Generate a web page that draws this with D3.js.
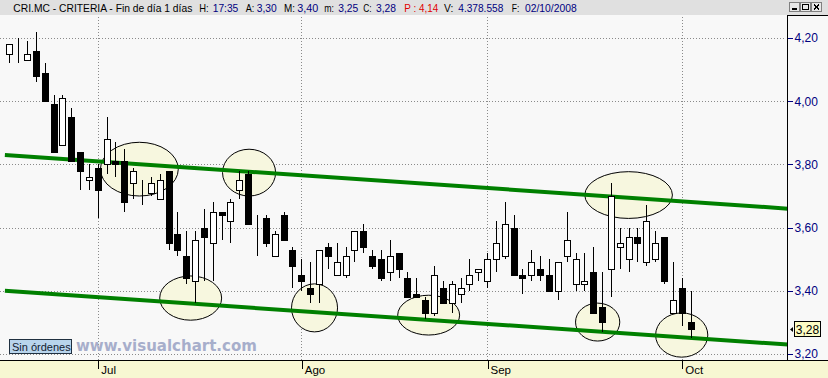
<!DOCTYPE html>
<html>
<head>
<meta charset="utf-8">
<script src="https://cdn.jsdelivr.net/npm/d3@7"></script>
<style>
body { margin: 0; background: #f8f8f8; }
text { font-family: "Liberation Sans", Arial, sans-serif; }
</style>
</head>
<body>
<script>
// trading days, 17 Jun 2008 .. 2 Oct 2008
var dates = ["17/06","18/06","19/06","20/06","23/06","24/06","25/06","26/06","27/06","30/06",
  "01/07","02/07","03/07","04/07","07/07","08/07","09/07","10/07","11/07","14/07","15/07","16/07",
  "17/07","18/07","21/07","22/07","23/07","24/07","25/07","28/07","29/07","30/07","31/07",
  "01/08","04/08","05/08","06/08","07/08","08/08","11/08","12/08","13/08","14/08","15/08","18/08",
  "19/08","20/08","21/08","22/08","25/08","26/08","27/08","28/08","29/08",
  "01/09","02/09","03/09","04/09","05/09","08/09","09/09","10/09","11/09","12/09","15/09","16/09",
  "17/09","18/09","19/09","22/09","23/09","24/09","25/09","26/09","29/09","30/09",
  "01/10","02/10"];

var openV = [4.15,4.15,4.13,4.16,4.09,3.99,3.86,3.95,3.84,3.75,
  3.79,3.80,3.81,3.81,3.74,3.72,3.71,3.69,3.78,3.58,3.51,3.43,
  3.60,3.55,3.65,3.62,3.72,3.77,3.61,3.63,3.51,3.64,3.53,
  3.45,3.41,3.42,3.54,3.45,3.45,3.53,3.59,3.51,3.50,3.46,3.52,
  3.44,3.39,3.37,3.33,3.41,3.36,3.39,3.42,3.46,
  3.43,3.50,3.51,3.60,3.45,3.45,3.47,3.45,3.40,3.51,3.42,3.42,
  3.46,3.35,3.47,3.54,3.50,3.57,3.49,3.50,3.57,3.33,
  3.41,3.30];
var highV = [4.18,4.20,4.19,4.22,4.12,4.02,4.02,3.98,3.84,3.80,
  3.80,3.95,3.87,3.85,3.79,3.75,3.76,3.77,3.78,3.65,3.59,3.59,
  3.66,3.68,3.65,3.69,3.78,3.78,3.64,3.64,3.59,3.65,3.54,
  3.50,3.49,3.53,3.55,3.55,3.54,3.59,3.61,3.53,3.53,3.56,3.52,
  3.46,3.44,3.38,3.48,3.43,3.43,3.44,3.50,3.47,
  3.52,3.62,3.68,3.64,3.47,3.53,3.51,3.50,3.49,3.65,3.52,3.52,
  3.54,3.46,3.74,3.60,3.60,3.60,3.67,3.59,3.57,3.49,
  3.44,3.40];
var lowV = [4.12,4.12,4.13,4.06,4.00,3.84,3.86,3.81,3.72,3.72,
  3.63,3.77,3.76,3.65,3.69,3.67,3.70,3.69,3.53,3.51,3.42,3.36,
  3.43,3.43,3.56,3.55,3.69,3.61,3.51,3.54,3.51,3.56,3.41,
  3.40,3.36,3.36,3.47,3.45,3.44,3.49,3.52,3.47,3.43,3.43,3.44,
  3.38,3.38,3.31,3.32,3.36,3.33,3.36,3.40,3.43,
  3.41,3.46,3.50,3.45,3.39,3.43,3.43,3.40,3.37,3.49,3.40,3.40,
  3.33,3.27,3.38,3.47,3.46,3.49,3.48,3.49,3.42,3.33,
  3.29,3.25];
var closeV = [4.18,4.15,4.15,4.08,4.00,3.84,4.01,3.81,3.78,3.76,
  3.72,3.88,3.80,3.68,3.78,3.72,3.74,3.75,3.55,3.53,3.44,3.56,
  3.57,3.65,3.64,3.68,3.75,3.61,3.61,3.55,3.58,3.56,3.48,
  3.43,3.39,3.53,3.51,3.49,3.51,3.59,3.54,3.48,3.44,3.51,3.47,
  3.38,3.38,3.33,3.45,3.36,3.42,3.41,3.45,3.47,
  3.50,3.55,3.61,3.45,3.44,3.49,3.45,3.40,3.49,3.56,3.50,3.43,
  3.33,3.30,3.70,3.55,3.57,3.55,3.62,3.55,3.43,3.37,
  3.33,3.28];

var priceTicks = [3.20, 3.40, 3.60, 3.80, 4.00, 4.20];
var monthLabels = ["Jul", "Ago", "Sep", "Oct"];
var monthStart = ["01/07", "01/08", "01/09", "01/10"];

// channel lines: [day index, price] at both ends
var upperLine = [[-0.5, 3.83], [88, 3.66]];
var lowerLine = [[-0.5, 3.40], [88, 3.23]];

// marked zones: centre day, centre price, half width (days), half height (price)
var zoneDay = [14.7, 27.1, 20.5, 34.5, 47.4, 70.0, 66.5, 76.0];
var zonePrice = [3.785, 3.774, 3.377, 3.346, 3.323, 3.703, 3.301, 3.260];
var zoneHalfDays = [4.4, 3.0, 3.5, 2.6, 3.5, 4.95, 2.5, 2.95];
var zoneHalfPrice = [0.085, 0.074, 0.070, 0.076, 0.063, 0.074, 0.060, 0.070];

// header pieces: text, left x, width, colour
var headerParts = [
  {t: "CRI.MC - CRITERIA - Fin de día 1 días", x: 13.3, w: 179, c: "#000"},
  {t: "H:", x: 199.3, w: 9.4, c: "#000"}, {t: "17:35", x: 212.7, w: 25.6, c: "#000080"},
  {t: "A:", x: 245.7, w: 8.6, c: "#000"}, {t: "3,30", x: 256.7, w: 20, c: "#000080"},
  {t: "M:", x: 284, w: 11, c: "#000"}, {t: "3,40", x: 297.3, w: 21, c: "#000080"},
  {t: "m:", x: 324.3, w: 9.7, c: "#000"}, {t: "3,25", x: 338.3, w: 20, c: "#000080"},
  {t: "C:", x: 363.3, w: 8.4, c: "#000"}, {t: "3,28", x: 376, w: 20, c: "#000080"},
  {t: "P : 4,14", x: 404.3, w: 34, c: "#e00000"},
  {t: "V:", x: 444, w: 9.3, c: "#000"}, {t: "4.378.558", x: 458.3, w: 45, c: "#000080"},
  {t: "F:", x: 511.7, w: 7.6, c: "#000"}, {t: "02/10/2008", x: 525, w: 51.7, c: "#000080"}
];

var W = 828, H = 378;
var axisX = 787, plotTop = 15, plotBottom = 360;

var svg = d3.select("body").append("svg")
  .attr("width", W)
  .attr("height", H)
  .style("display", "block");

var x = d3.scaleLinear().domain([0, 76]).range([9.3, 681.7]);
var y = d3.scaleLinear().domain([3.2, 4.2]).range([354, 38]);
var fmt = function(d) { return d3.format(".2f")(d).replace(".", ","); };

// backgrounds
svg.append("rect").attr("x", 0).attr("y", 0).attr("width", W).attr("height", plotTop)
  .attr("fill", "#e0e0e0");
svg.append("rect").attr("x", 0).attr("y", plotTop).attr("width", W).attr("height", plotBottom - plotTop)
  .attr("fill", "#f8f8f8");
svg.append("rect").attr("x", 0).attr("y", plotBottom).attr("width", W).attr("height", H - plotBottom)
  .attr("fill", "#f7f7d2");

// dotted grid
var grid = svg.append("g").attr("stroke", "#8a8a8a").attr("stroke-dasharray", "1,2")
  .attr("shape-rendering", "crispEdges");
grid.selectAll("line.h").data(priceTicks).enter().append("line")
  .attr("x1", 0).attr("x2", axisX - 1)
  .attr("y1", function(d) { return Math.round(y(d)) + 0.5; })
  .attr("y2", function(d) { return Math.round(y(d)) + 0.5; });
grid.selectAll("line.v").data(monthStart).enter().append("line")
  .attr("x1", function(d) { return Math.round(x(dates.indexOf(d))) + 0.5; })
  .attr("x2", function(d) { return Math.round(x(dates.indexOf(d))) + 0.5; })
  .attr("y1", plotTop + 2).attr("y2", plotBottom);

// zones
svg.append("g").selectAll("ellipse").data(zoneDay).enter().append("ellipse")
  .attr("cx", function(d) { return x(d); })
  .attr("cy", function(d, i) { return y(zonePrice[i]); })
  .attr("rx", function(d, i) { return x(d + zoneHalfDays[i]) - x(d); })
  .attr("ry", function(d, i) { return y(zonePrice[i] - zoneHalfPrice[i]) - y(zonePrice[i]); })
  .attr("fill", "#f7f7df")
  .attr("stroke", "#000")
  .attr("stroke-width", 1);

// channel
svg.append("g").selectAll("line").data([upperLine, lowerLine]).enter().append("line")
  .attr("x1", function(d) { return x(d[0][0]); })
  .attr("y1", function(d) { return y(d[0][1]); })
  .attr("x2", function(d) { return x(d[1][0]); })
  .attr("y2", function(d) { return y(d[1][1]); })
  .attr("stroke", "#008000")
  .attr("stroke-width", 4);

// candles
var candles = svg.append("g").attr("shape-rendering", "crispEdges")
  .selectAll("g").data(dates).enter().append("g");

candles.append("line")
  .attr("x1", function(d, i) { return Math.round(x(i)) + 0.5; })
  .attr("x2", function(d, i) { return Math.round(x(i)) + 0.5; })
  .attr("y1", function(d, i) { return y(highV[i]); })
  .attr("y2", function(d, i) { return y(lowV[i]); })
  .attr("stroke", "#000");

candles.append("rect")
  .attr("x", function(d, i) { return Math.round(x(i)) - 2.5; })
  .attr("width", 6)
  .attr("y", function(d, i) { return Math.round(y(Math.max(openV[i], closeV[i]))) + 0.5; })
  .attr("height", function(d, i) {
    return Math.max(0, Math.round(y(Math.min(openV[i], closeV[i]))) - Math.round(y(Math.max(openV[i], closeV[i]))));
  })
  .attr("fill", function(d, i) { return closeV[i] > openV[i] ? "#fff" : "#000"; })
  .attr("stroke", "#000");

// right axis
svg.append("line")
  .attr("x1", axisX + 0.5).attr("x2", axisX + 0.5)
  .attr("y1", plotTop).attr("y2", plotBottom)
  .attr("stroke", "#000");
svg.append("line")
  .attr("x1", axisX).attr("x2", W)
  .attr("y1", plotTop + 0.5).attr("y2", plotTop + 0.5)
  .attr("stroke", "#000");

var yAxis = svg.append("g")
  .attr("transform", "translate(" + (axisX + 0.5) + ",0)")
  .call(d3.axisRight(y).tickValues(priceTicks).tickSize(5).tickPadding(2).tickFormat(fmt));
yAxis.select(".domain").remove();
yAxis.selectAll("line").attr("stroke", "#000080").attr("shape-rendering", "crispEdges");
yAxis.selectAll("text")
  .attr("fill", "#000080")
  .style("font-size", "12px")
  .style("font-family", "'Liberation Sans', Arial, sans-serif");

// bottom axis
svg.append("line")
  .attr("x1", 0).attr("x2", W)
  .attr("y1", plotBottom + 0.5).attr("y2", plotBottom + 0.5)
  .attr("stroke", "#000");
var xAxis = svg.append("g")
  .attr("transform", "translate(0," + plotBottom + ")")
  .call(d3.axisBottom(x)
    .tickValues(monthStart.map(function(d) { return dates.indexOf(d); }))
    .tickSize(9)
    .tickFormat(function(d, i) { return monthLabels[i]; }));
xAxis.select(".domain").remove();
xAxis.selectAll("line").attr("stroke", "#000").attr("shape-rendering", "crispEdges")
  .attr("transform", "translate(0.5,0)");
xAxis.selectAll("text")
  .attr("text-anchor", "start")
  .attr("x", 3)
  .attr("y", 6)
  .attr("fill", "#000")
  .style("font-size", "11.5px")
  .style("font-family", "'Liberation Sans', Arial, sans-serif");

// last price tag
var last = closeV[closeV.length - 1];
var tagY = Math.round(y(last));
svg.append("path")
  .attr("d", "M" + (axisX + 3) + "," + (tagY + 0.5) + "l3,-2.5v5z")
  .attr("fill", "#000");
svg.append("rect")
  .attr("x", 794.5).attr("y", tagY - 7.5)
  .attr("width", 26).attr("height", 15)
  .attr("fill", "#fcfcc4").attr("stroke", "#000");
svg.append("text")
  .attr("x", 807.5).attr("y", tagY + 4.5)
  .attr("text-anchor", "middle")
  .style("font-size", "12px")
  .text(fmt(last));

// header
svg.append("g").selectAll("text").data(headerParts).enter().append("text")
  .attr("x", function(d) { return d.x; })
  .attr("y", 12)
  .attr("fill", function(d) { return d.c; })
  .attr("textLength", function(d) { return d.w; })
  .attr("lengthAdjust", "spacingAndGlyphs")
  .style("font-size", "10.5px")
  .text(function(d) { return d.t; });

// window buttons
var btns = svg.append("g").attr("shape-rendering", "crispEdges");
[789, 800, 811].forEach(function(bx, k) {
  btns.append("rect").attr("x", bx + 0.5).attr("y", 2.5).attr("width", 10).attr("height", 9)
    .attr("fill", "#e8e8e8").attr("stroke", "#808080");
  if (k === 0) btns.append("rect").attr("x", bx + 3).attr("y", 8).attr("width", 5).attr("height", 2).attr("fill", "#000");
  if (k === 1) btns.append("rect").attr("x", bx + 2.5).attr("y", 4.5).attr("width", 6).attr("height", 5)
    .attr("fill", "none").attr("stroke", "#000");
  if (k === 2) btns.append("path").attr("d", "M" + (bx + 3) + ",4.5l5,5M" + (bx + 8) + ",4.5l-5,5")
    .attr("stroke", "#000").attr("stroke-width", 1.5);
});

// footer marks
svg.append("rect")
  .attr("x", 9.5).attr("y", 339.5).attr("width", 62).attr("height", 14)
  .attr("fill", "#b8d4ec").attr("stroke", "#203040");
svg.append("text")
  .attr("x", 12).attr("y", 351)
  .attr("fill", "#102030")
  .style("font-size", "11px")
  .text("Sin órdenes");
svg.append("text")
  .attr("x", 76).attr("y", 351)
  .attr("fill", "#a7aecb")
  .style("font-size", "15px")
  .style("font-weight", "bold")
  .style("font-family", "'DejaVu Sans', Verdana, sans-serif")
  .text("www.visualchart.com");
</script>
</body>
</html>
